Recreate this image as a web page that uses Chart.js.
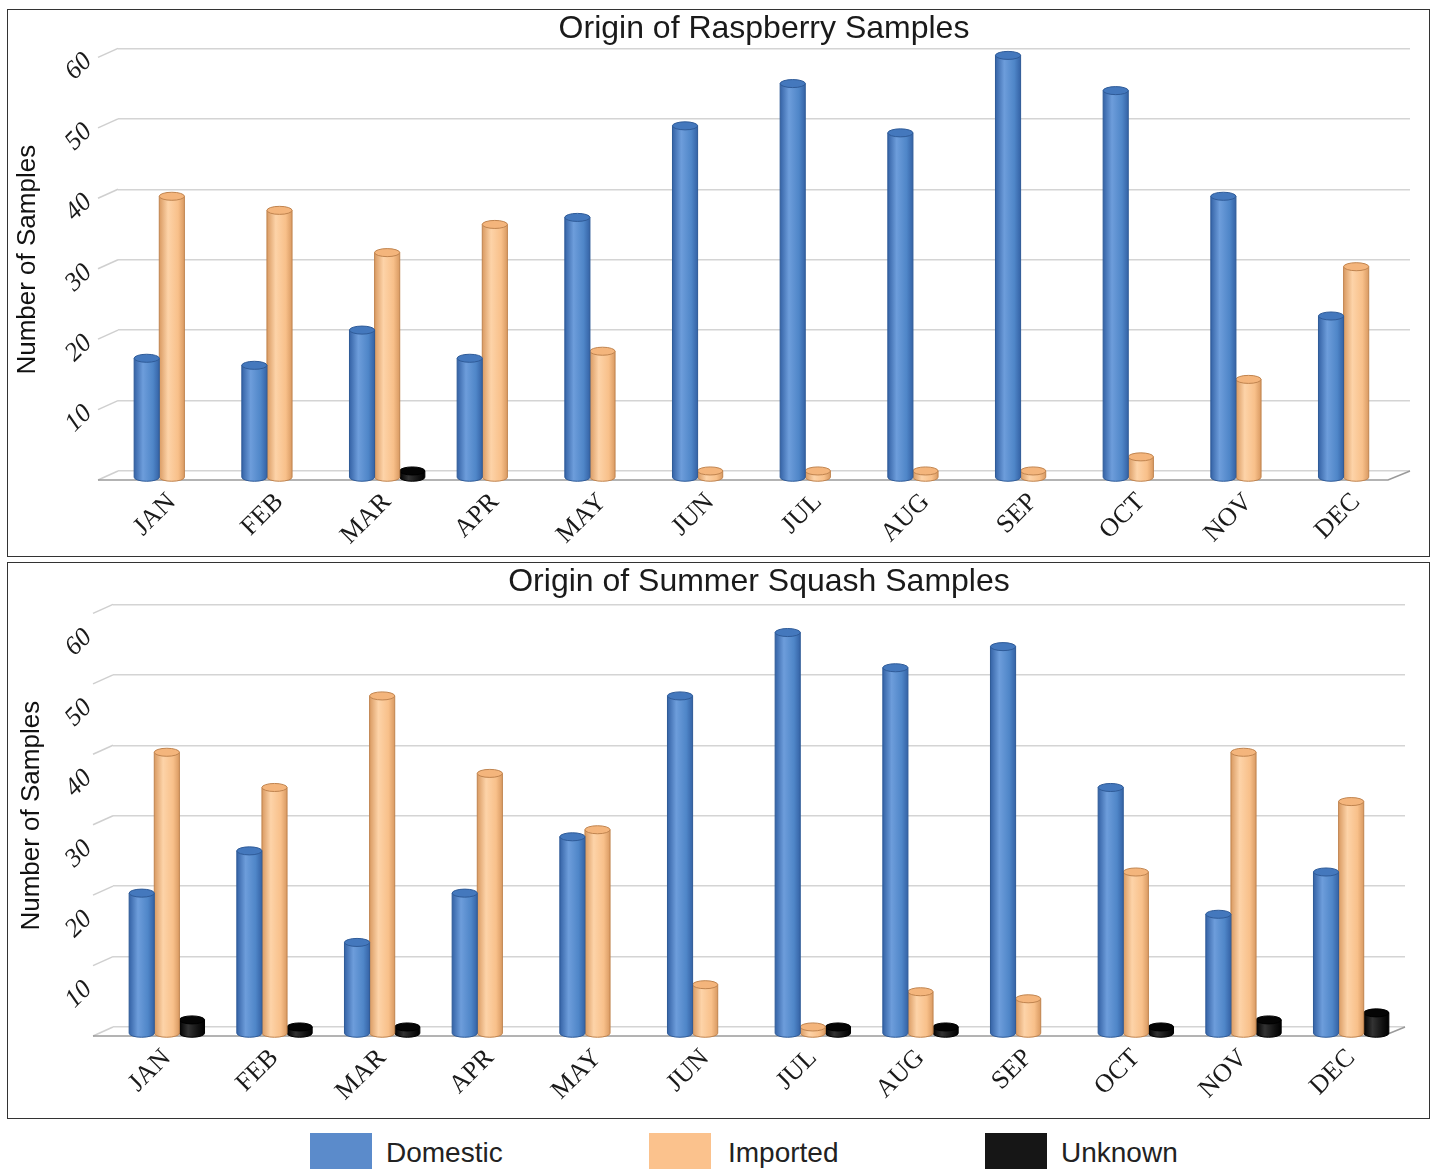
<!DOCTYPE html>
<html>
<head>
<meta charset="utf-8">
<script src="https://cdn.jsdelivr.net/npm/chart.js@4.4.1/dist/chart.umd.min.js"></script>
<style>
  html, body { margin: 0; padding: 0; background: #fff; width: 1438px; height: 1169px; overflow: hidden; }
  .box { position: absolute; left: 7px; width: 1421px; border: 1px solid #333; background: #fff; }
  #box1 { top: 9px; height: 546px; }
  #box2 { top: 562px; height: 555px; }
  canvas { display: block; }
  .legend-item { position: absolute; top: 1133px; font-family: "Liberation Sans", Arial, sans-serif; font-size: 28px; color: #222; }
  .swatch { position: absolute; top: 0; width: 62px; height: 40px; }
  .legend-text { position: absolute; top: 4px; white-space: nowrap; }
</style>
</head>
<body>
<div class="box" id="box1"><canvas id="rasChart" width="1421" height="546"></canvas></div>
<div class="box" id="box2"><canvas id="sqChart" width="1421" height="555"></canvas></div>

<div class="legend-item" style="left:310px"><div class="swatch" style="background:#5b8bcb"></div><div class="legend-text" style="left:76px">Domestic</div></div>
<div class="legend-item" style="left:649px"><div class="swatch" style="background:#fbc28d"></div><div class="legend-text" style="left:79px">Imported</div></div>
<div class="legend-item" style="left:985px"><div class="swatch" style="background:#161616"></div><div class="legend-text" style="left:76px">Unknown</div></div>

<script>
// 月ラベル
const months = ["JAN", "FEB", "MAR", "APR", "MAY", "JUN", "JUL", "AUG", "SEP", "OCT", "NOV", "DEC"];
const seriesNames = ["Domestic", "Imported", "Unknown"];

// ラズベリー
const rasDomestic = [17, 16, 21, 17, 37, 50, 56, 49, 60, 55, 40, 23];
const rasImported = [40, 38, 32, 36, 18, 1, 1, 1, 1, 3, 14, 30];
const rasUnknown = [0, 0, 1, 0, 0, 0, 0, 0, 0, 0, 0, 0];

// サマースカッシュ
const sqDomestic = [20, 26, 13, 20, 28, 48, 57, 52, 55, 35, 17, 23];
const sqImported = [40, 35, 48, 37, 29, 7, 1, 6, 5, 23, 40, 33];
const sqUnknown = [2, 1, 1, 0, 0, 0, 1, 1, 0, 1, 2, 3];

// Y軸の目盛り
const yTicks = [10, 20, 30, 40, 50, 60];

// 円柱の色 (暗い縁, 明るい部分, 中間, 上面)
const shades = [
  { dark: "#3563a6", light: "#6d9ddb", mid: "#4f86c8", cap: "#4478bd", edge: "#2f5b98" },
  { dark: "#d99a62", light: "#fdd3a8", mid: "#f8c08a", cap: "#f4b57c", edge: "#c0844f" },
  { dark: "#000000", light: "#333333", mid: "#111111", cap: "#050505", edge: "#000000" },
];

// 奥行き (棒を手前の床に置く)
const DEPTH = 7;

// 円柱として棒を描く
const cylinderPlugin = {
  id: "cylinders",
  beforeDatasetDraw(chart, args) {
    const ctx = chart.ctx;
    const s = shades[args.index];
    args.meta.data.forEach((bar) => {
      const p = bar.getProps(["x", "y", "base", "width"], true);
      if (Math.abs(p.base - p.y) < 0.5) return;
      const w = p.width;
      const l = p.x - w / 2;
      const r = p.x + w / 2;
      const top = p.y + DEPTH;
      const base = p.base + DEPTH;
      const ry = w * 0.16;
      const g = ctx.createLinearGradient(l, 0, r, 0);
      g.addColorStop(0, s.dark);
      g.addColorStop(0.35, s.light);
      g.addColorStop(0.75, s.mid);
      g.addColorStop(1, s.dark);
      ctx.save();
      ctx.beginPath();
      ctx.moveTo(l, top);
      ctx.lineTo(l, base);
      ctx.ellipse(p.x, base, w / 2, ry, 0, Math.PI, 0, true);
      ctx.lineTo(r, top);
      ctx.closePath();
      ctx.fillStyle = g;
      ctx.fill();
      ctx.lineWidth = 1;
      ctx.strokeStyle = s.edge;
      ctx.stroke();
      ctx.beginPath();
      ctx.ellipse(p.x, top, w / 2, ry, 0, 0, Math.PI * 2);
      ctx.fillStyle = s.cap;
      ctx.fill();
      ctx.stroke();
      ctx.restore();
    });
    return false;
  },
};

// 床と左の斜線
const floorPlugin = {
  id: "floor",
  beforeDatasetsDraw(chart) {
    const ctx = chart.ctx;
    const area = chart.chartArea;
    const y = chart.scales.y;
    ctx.save();
    ctx.strokeStyle = "#cfcfcf";
    ctx.lineWidth = 1.5;
    [0].concat(yTicks).forEach((v) => {
      const py = y.getPixelForValue(v);
      ctx.beginPath();
      ctx.moveTo(area.left, py);
      ctx.lineTo(area.left - 20, py + 9);
      ctx.stroke();
    });
    const zero = y.getPixelForValue(0);
    ctx.strokeStyle = "#9a9a9a";
    ctx.beginPath();
    ctx.moveTo(area.left - 20, zero + 9);
    ctx.lineTo(area.right - 22, zero + 9);
    ctx.lineTo(area.right, zero);
    ctx.stroke();
    ctx.restore();
  },
};

function makeChart(id, title, dom, imp, unk, cfg) {
  const ctx = document.getElementById(id).getContext("2d");
  return new Chart(ctx, {
    type: "bar",
    data: {
      labels: months,
      datasets: [
        { label: seriesNames[0], data: dom, backgroundColor: shades[0].mid },
        { label: seriesNames[1], data: imp, backgroundColor: shades[1].mid },
        { label: seriesNames[2], data: unk, backgroundColor: shades[2].mid },
      ],
    },
    plugins: [floorPlugin, cylinderPlugin],
    options: {
      responsive: false,
      animation: false,
      datasets: { bar: { categoryPercentage: 0.7, barPercentage: 1.0 } },
      plugins: {
        legend: { display: false },
        tooltip: { enabled: false },
        title: {
          display: true,
          text: title,
          fullSize: false,
          color: "#1a1a1a",
          font: { family: "Liberation Sans, Arial, sans-serif", size: 32, weight: "normal" },
          padding: { top: 0, bottom: cfg.titleGap },
        },
      },
      scales: {
        x: {
          grid: { display: false },
          border: { display: false },
          ticks: {
            autoSkip: false,
            minRotation: 45,
            maxRotation: 45,
            padding: 8,
            color: "#1a1a1a",
            font: { family: "Liberation Serif, Times New Roman, serif", size: 26 },
          },
          afterFit(scale) {
            scale.height = cfg.xHeight;
            scale.paddingLeft = 0;
            scale.paddingRight = 0;
          },
        },
        y: {
          min: 0,
          max: 60,
          grid: { color: "#d4d4d4", lineWidth: 1.5, drawTicks: false },
          border: { display: false },
          ticks: {
            stepSize: 10,
            minRotation: 45,
            maxRotation: 45,
            padding: cfg.yPad,
            labelOffset: cfg.labelOffset,
            color: "#1a1a1a",
            font: { family: "Liberation Serif, Times New Roman, serif", size: 26, style: "italic" },
            callback: (v) => (v === 0 ? "" : v),
          },
          title: {
            display: true,
            text: "Number of Samples",
            color: "#111",
            font: { family: "Liberation Sans, Arial, sans-serif", size: 26 },
            padding: { top: cfg.titlePad, bottom: 0 },
          },
          afterFit(scale) {
            scale.width = cfg.yWidth;
            scale.paddingTop = 0;
            scale.paddingBottom = 0;
          },
        },
      },
      layout: { padding: { left: 0, right: cfg.right, top: 0, bottom: 0 } },
    },
  });
}

makeChart("rasChart", "Origin of Raspberry Samples", rasDomestic, rasImported, rasUnknown,
  { titleGap: 0, xHeight: 85, yWidth: 110, yPad: 30, labelOffset: 9, titlePad: 4, right: 19 });
makeChart("sqChart", "Origin of Summer Squash Samples", sqDomestic, sqImported, sqUnknown,
  { titleGap: 3, xHeight: 91, yWidth: 105, yPad: 25, labelOffset: 29, titlePad: 8, right: 24 });
</script>
</body>
</html>
